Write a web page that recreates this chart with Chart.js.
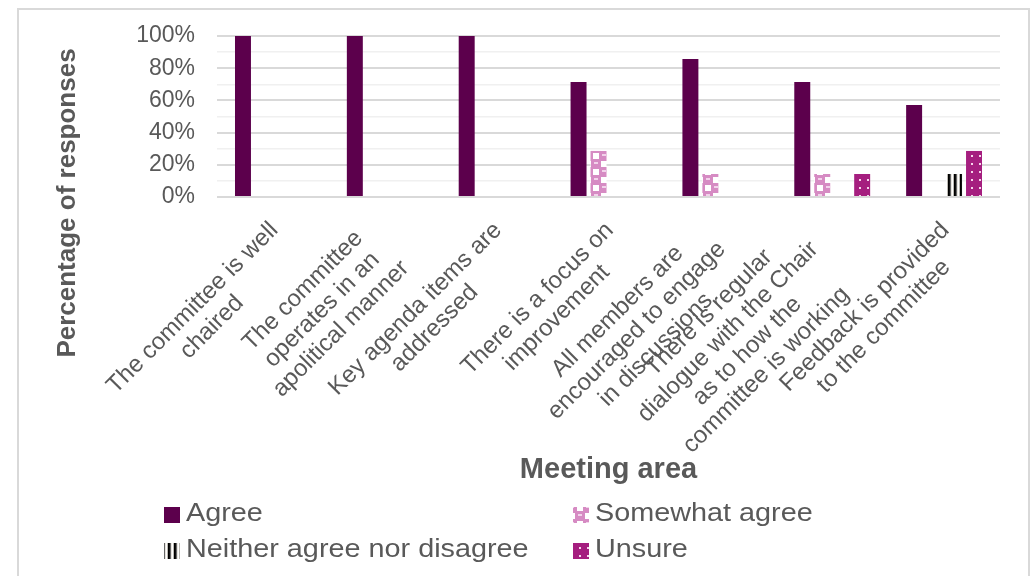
<!DOCTYPE html>
<html>
<head>
<meta charset="utf-8">
<script src="https://cdn.jsdelivr.net/npm/chart.js@4"></script>
<style>
  html, body { margin: 0; padding: 0; background: #fff; }
  canvas { display: block; }
</style>
</head>
<body>
<canvas id="meetingCanvas" width="1031" height="576"></canvas>
<script>
// meeting areas (one array of lines per label)
var categories = [
	['The committee is well', 'chaired'],
	['The committee', 'operates in an', 'apolitical manner'],
	['Key agenda items are', 'addressed'],
	['There is a focus on', 'improvement'],
	['All members are', 'encouraged to engage', 'in discussions'],
	['There is regular', 'dialogue with the Chair', 'as to how the', 'committee is working'],
	['Feedback is provided', 'to the committee']
];
var seriesNames = ['Agree', 'Somewhat agree', 'Neither agree nor disagree', 'Unsure'];
// % of responses
var agree = [100, 100, 100, 71.4, 85.7, 71.4, 57.1];
var somewhatAgree = [0, 0, 0, 28.6, 14.3, 14.3, 0];
var neither = [0, 0, 0, 0, 0, 0, 14.3];
var unsure = [0, 0, 0, 0, 0, 14.3, 28.6];
var yTickLabels = ['0%', '20%', '40%', '60%', '80%', '100%'];

var textColor = '#595959';
var fontFamily = '"Liberation Sans", Arial, sans-serif';

// small tiles used as fill patterns
function makePattern(w, h, paint) {
	var c = document.createElement('canvas');
	c.width = w;
	c.height = h;
	var g = c.getContext('2d');
	paint(g);
	return g.createPattern(c, 'repeat');
}

var ctx = document.getElementById('meetingCanvas').getContext('2d');

var agreeFill = '#5c004c';
// pink checks with a light spot in each pink cell
var somewhatFill = makePattern(16, 16, function (g) {
	g.fillStyle = '#d68bc3';
	g.fillRect(0, 0, 16, 16);
	g.fillStyle = '#ffffff';
	g.fillRect(9, 1, 6, 6);
	g.fillRect(1, 9, 6, 6);
	g.fillStyle = '#f2d2ea';
	g.fillRect(2, 2, 4, 2);
	g.fillRect(10, 10, 4, 2);
});
var neitherFill = makePattern(6, 4, function (g) {
	var cols = ['#000000', '#111111', '#666666', '#e8e4de', '#ffffff', '#bdbab4'];
	for (var i = 0; i < cols.length; i++) {
		g.fillStyle = cols[i];
		g.fillRect(i, 0, 1, 4);
	}
});
var unsureFill = makePattern(8, 8, function (g) {
	g.fillStyle = '#a51e7f';
	g.fillRect(0, 0, 8, 8);
	g.fillStyle = '#f6d6ec';
	g.fillRect(3, 3, 2, 2);
});

var fills = [agreeFill, somewhatFill, neitherFill, unsureFill];
var values = [agree, somewhatAgree, neither, unsure];

var datasets = [];
for (var i = 0; i < seriesNames.length; i++) {
	datasets.push({
		label: seriesNames[i],
		data: values[i],
		backgroundColor: fills[i],
		borderWidth: 0,
		barPercentage: 0.8,
		categoryPercentage: 0.714
	});
}

// frame, y title, slanted category labels and the two-column legend
var decorPlugin = {
	id: 'decor',
	beforeDraw: function (chart) {
		var c = chart.ctx;
		c.save();
		c.fillStyle = '#ffffff';
		c.fillRect(0, 0, chart.width, chart.height);
		c.strokeStyle = '#d9d9d9';
		c.lineWidth = 2;
		c.strokeRect(18, 9, 1011, 600);
		c.restore();
	},
	afterDraw: function (chart) {
		var c = chart.ctx;
		var xs = chart.scales.x;
		c.save();
		c.fillStyle = textColor;

		// y axis title
		c.save();
		c.font = 'bold 26px ' + fontFamily;
		c.translate(68, 203);
		c.rotate(-Math.PI / 2);
		c.textAlign = 'center';
		c.textBaseline = 'middle';
		c.fillText('Percentage of responses', 0, 0);
		c.restore();

		// category labels at 45 degrees, lines centred on each other
		c.font = '24px ' + fontFamily;
		var lh = 27;
		for (var i = 0; i < categories.length; i++) {
			var lines = categories[i];
			var w = 0;
			for (var j = 0; j < lines.length; j++) {
				w = Math.max(w, c.measureText(lines[j]).width);
			}
			var h = lines.length * lh;
			var x0 = xs.getPixelForValue(i) + 30 - Math.SQRT1_2 * h;
			c.save();
			c.translate(x0, 217);
			c.rotate(-Math.PI / 4);
			c.textAlign = 'center';
			c.textBaseline = 'middle';
			for (var j = 0; j < lines.length; j++) {
				c.fillText(lines[j], -w / 2, j * lh + lh / 2);
			}
			c.restore();
		}

		// legend
		var colX = [164, 573];
		var rowY = [507, 543];
		c.font = '24px ' + fontFamily;
		c.textAlign = 'left';
		c.textBaseline = 'alphabetic';
		chart.data.datasets.forEach(function (ds, k) {
			var bx = colX[k % 2];
			var by = rowY[Math.floor(k / 2)];
			c.fillStyle = ds.backgroundColor;
			c.fillRect(bx, by, 16, 16);
			c.fillStyle = textColor;
			c.save();
			c.translate(bx + 22, by + 14);
			c.scale(1.2, 1.05);
			c.fillText(ds.label, 0, 0);
			c.restore();
		});
		c.restore();
	}
};

var myChart = new Chart(ctx, {
	type: 'bar',
	data: {
		labels: categories,
		datasets: datasets
	},
	options: {
		responsive: false,
		animation: false,
		layout: {
			padding: { left: 0, right: 31, top: 36, bottom: 89 }
		},
		plugins: {
			legend: { display: false },
			tooltip: { enabled: false }
		},
		scales: {
			x: {
				grid: { display: false },
				border: { display: false },
				ticks: { display: false },
				title: {
					display: true,
					text: 'Meeting area',
					color: textColor,
					font: { family: fontFamily, size: 29, weight: 'bold' },
					padding: { top: 0, bottom: 0 }
				},
				afterFit: function (s) { s.height = 290; }
			},
			y: {
				min: 0,
				max: 100,
				border: { display: false },
				grid: {
					drawTicks: false,
					color: function (c) { return c.tick.value % 20 === 0 ? '#d9d9d9' : '#f0f0f0'; },
					lineWidth: function (c) { return c.tick.value % 20 === 0 ? 2 : 1.5; }
				},
				ticks: {
					stepSize: 10,
					autoSkip: false,
					padding: 22,
					color: textColor,
					font: { family: fontFamily, size: 23 },
					callback: function (v) { return v % 20 === 0 ? yTickLabels[v / 20] : ''; }
				},
				afterFit: function (s) { s.width = 217; }
			}
		}
	},
	plugins: [decorPlugin]
});
</script>
</body>
</html>
